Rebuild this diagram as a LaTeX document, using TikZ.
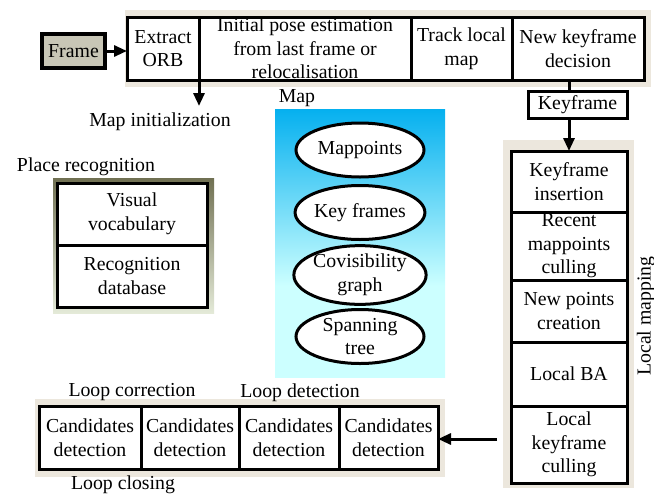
\documentclass[tikz,border=0pt]{standalone}
\usepackage{fontspec}
\setmainfont{LiberationSerif-Regular.ttf}
\usetikzlibrary{arrows.meta,shapes.geometric}
\definecolor{panel}{RGB}{236,231,221}
\definecolor{framefill}{RGB}{200,198,182}
\definecolor{mapTop}{RGB}{5,176,239}
\definecolor{mapBot}{RGB}{204,255,255}
\definecolor{prTop}{RGB}{112,112,82}
\definecolor{prMid}{RGB}{140,210,74}
\definecolor{prBot}{RGB}{228,234,216}
% cyan fades to pale cyan over the upper two thirds
\pgfdeclareverticalshading{mapshade}{100bp}{color(0bp)=(mapBot); color(25bp)=(mapBot); color(42bp)=(mapBot); color(75bp)=(mapTop); color(100bp)=(mapTop)}
\begin{document}
\begin{tikzpicture}[x=1pt, y=-1pt,
  font=\rmfamily\fontsize{19.8}{23.5}\selectfont,
  cell/.style={draw, line width=3pt, fill=white, inner sep=0pt, outer sep=0pt, align=center},
  oval/.style={ellipse, draw, line width=3pt, fill=white, inner sep=0pt,
    minimum width=128, minimum height=54, align=center},
  arr/.style={line width=3pt, -{Triangle[length=13pt,width=11pt]}},
  conn/.style={line width=3pt},
  label/.style={inner sep=0pt}]
\useasboundingbox (0,0) rectangle (654,496);

% panels behind the groups
\fill[panel] (125,10) rectangle (651,87);
\fill[panel] (503,140) rectangle (634,488);
\fill[panel] (35,399) rectangle (445,477);
\shade[top color=prTop, middle color=prMid, bottom color=prBot] (53,178) rectangle (214,313);
\shade[shading=mapshade] (275,109) rectangle (445,377);

% tracking
\node[cell, line width=4pt, fill=framefill, minimum width=63, minimum height=34] (frame) at (73.5,51) {Frame};
\node[cell, minimum width=72, minimum height=63] (orb) at (163,48.5) {Extract\\ORB};
\node[cell, minimum width=212, minimum height=63] (pose) at (305,48.5) {Initial pose estimation\\from last frame or\\relocalisation};
\node[cell, minimum width=101, minimum height=63] (track) at (461.5,48.5) {Track local\\map};
\node[cell, minimum width=132, minimum height=63] (newkf) at (578,48.5) {New keyframe\\decision};
\node[cell, minimum width=99, minimum height=27] (kf) at (577.5,104.5) {Keyframe};
\node[label] (mapinit) at (160,122) {Map initialization};
\coordinate (mi) at (199,106);

% map
\node[label] (maplbl) at (297,98) {Map};
\node[oval] (mp) at (360,150) {Mappoints};
\node[oval] (kfr) at (360,212.5) {Key frames};
\node[oval] (cov) at (360,275) {Covisibility\\graph};
\node[oval] (span) at (360,336.5) {Spanning\\tree};

% place recognition
\node[label] (prlbl) at (86,167) {Place recognition};
\node[cell, minimum width=150, minimum height=62] (vv) at (132,214) {Visual\\vocabulary};
\node[cell, minimum width=150, minimum height=62] (rd) at (132,276) {Recognition\\database};

% local mapping
\node[cell, minimum width=116, minimum height=61] (kfins) at (569,181.5) {Keyframe\\insertion};
\node[cell, minimum width=116, minimum height=68] (recent) at (569,246) {Recent\\mappoints\\culling};
\node[cell, minimum width=116, minimum height=62] (newpts) at (569,311) {New points\\creation};
\node[cell, minimum width=116, minimum height=64] (lba) at (569,374) {Local BA};
\node[cell, minimum width=116, minimum height=77] (lkc) at (569,444.5) {Local\\keyframe\\culling};
\node[label, rotate=90] (lmlbl) at (646,316) {Local mapping};

% loop closing
\node[label] (lcorr) at (132,392) {Loop correction};
\node[label] (ldet) at (300,393) {Loop detection};
\node[label] (lclos) at (123,485) {Loop closing};
\node[cell, minimum width=102, minimum height=63] (c1) at (90,437.5) {Candidates\\detection};
\node[cell, minimum width=98, minimum height=63] (c2) at (190,437.5) {Candidates\\detection};
\node[cell, minimum width=100, minimum height=63] (c3) at (289,437.5) {Candidates\\detection};
\node[cell, minimum width=99, minimum height=63] (c4) at (388.5,437.5) {Candidates\\detection};
\coordinate (lcin) at (497,439);

% connectors
\draw[arr] (frame.east) -- (frame.east -| orb.west);
\draw[arr] (pose.south west) -- (mi);
\draw[conn] (kfins.north |- newkf.south) -- (kfins.north |- kf.north);
\draw[arr] (kfins.north |- kf.south) -- (kfins.north);
\draw[arr] (lcin) -- (c4.east |- lcin);
\end{tikzpicture}
\end{document}
